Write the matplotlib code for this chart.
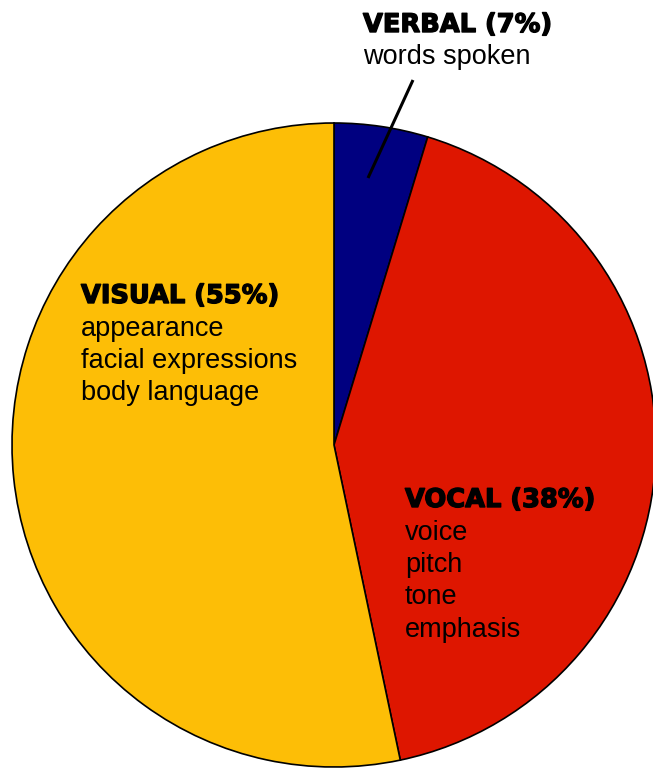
import matplotlib
matplotlib.use('Agg')
import matplotlib.pyplot as plt
import matplotlib.patheffects as pe

# Slice sizes as drawn in the picture (the labels say 7/38/55)
categories = ['VERBAL', 'VOCAL', 'VISUAL']
sizes = [4.7, 42.0, 53.3]
percent_labels = ['7%', '38%', '55%']
details = [
    ['words spoken'],
    ['voice', 'pitch', 'tone', 'emphasis'],
    ['appearance', 'facial expressions', 'body language'],
]
colors = ['#000080', '#DE1600', '#FDBE06']

W, H = 653, 768
fig = plt.figure(figsize=(W / 100, H / 100), dpi=100)
ax = fig.add_axes([0, 0, 1, 1])

# pie in pixel-like coordinates (y up)
ax.pie(sizes, colors=colors, startangle=90, counterclock=False,
       center=(334, H - 445), radius=322,
       wedgeprops=dict(edgecolor='black', linewidth=1.2))
ax.set_xlim(0, W)
ax.set_ylim(0, H)
ax.set_aspect('equal')
ax.axis('off')

# label blocks: (x, baseline of heading) in pixels from top-left
positions = [(363, 32), (405, 507), (81, 303)]
line_gap = 32.5
heavy = [pe.withStroke(linewidth=1.0, foreground='black')]

for cat, pct, lines, (x, y) in zip(categories, percent_labels, details, positions):
    ax.text(x, H - y, f'{cat} ({pct})', fontsize=18.5, fontweight='bold',
            family='DejaVu Sans', va='baseline', ha='left', color='black',
            path_effects=heavy)
    for i, line in enumerate(lines):
        ax.text(x, H - (y + line_gap * (i + 1)), line, fontsize=19.5,
                family='Liberation Sans', va='baseline', ha='left', color='black')

# leader line from verbal label into its slice
ax.plot([368, 413], [H - 178, H - 80], color='black', linewidth=2.2,
        solid_capstyle='butt')

plt.savefig('out.png', dpi=100)
